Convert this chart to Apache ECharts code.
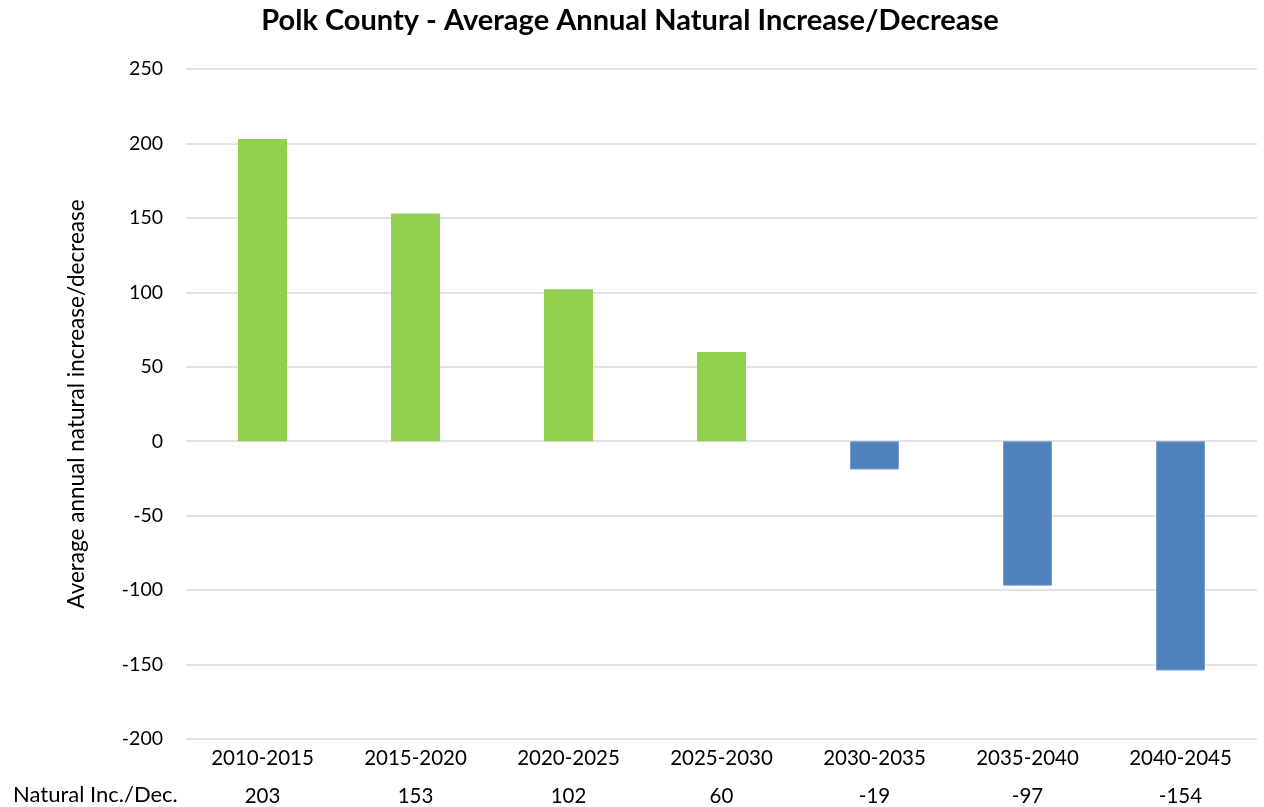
<!DOCTYPE html>
<html>
<head>
<meta charset="utf-8">
<script src="https://cdn.jsdelivr.net/npm/echarts@6/dist/echarts.min.js"></script>
<style>
  html, body { margin: 0; padding: 0; background: #fff; }
  #chart { width: 1264px; height: 807px; }
</style>
</head>
<body>
<div id="chart"></div>
<script>
const categories = ['2010-2015', '2015-2020', '2020-2025', '2025-2030', '2030-2035', '2035-2040', '2040-2045']
const naturalChange = [203, 153, 102, 60, -19, -97, -154]
const rowLabel = 'Natural Inc./Dec.'

const fontFamily = 'Lato, "Open Sans", sans-serif'
const chart = echarts.init(document.getElementById('chart'))

const option = {
  animation: false,
  textStyle: { fontFamily: fontFamily },
  title: {
    text: 'Polk County - Average Annual Natural Increase/Decrease',
    left: 625,
    textAlign: 'center',
    top: 1,
    textStyle: { fontSize: 29, fontWeight: 'bold', color: '#000', fontFamily: fontFamily }
  },
  grid: { left: 186, right: 7, top: 69, height: 670 },
  xAxis: [
    {
      type: 'category',
      data: categories,
      axisLine: { show: false },
      axisTick: { show: false },
      axisLabel: { color: '#000', fontSize: 20.5, margin: 9, interval: 0 }
    },
    {
      type: 'category',
      position: 'bottom',
      offset: 38,
      data: naturalChange.map(String),
      axisLine: { show: false },
      axisTick: { show: false },
      axisLabel: { color: '#000', fontSize: 20.5, margin: 9, interval: 0 }
    }
  ],
  yAxis: {
    type: 'value',
    min: -200,
    max: 250,
    interval: 50,
    name: 'Average annual natural increase/decrease',
    nameLocation: 'middle',
    nameGap: 98,
    nameTextStyle: { color: '#000', fontSize: 22.5 },
    axisLine: { show: false },
    axisTick: { show: false },
    axisLabel: { color: '#000', fontSize: 19.5, margin: 23 },
    splitLine: { lineStyle: { color: '#d9d9d9', width: 1.5 } }
  },
  graphic: [
    {
      type: 'text',
      left: 13,
      top: 784,
      style: { text: rowLabel, fontSize: 22, fill: '#000', fontFamily: fontFamily }
    }
  ],
  series: [
    {
      type: 'bar',
      xAxisIndex: 0,
      barWidth: 49,
      data: naturalChange.map((v) => ({
        value: v,
        itemStyle: v >= 0
          ? { color: '#92d050' }
          : { color: '#4f81bd', borderColor: '#7ba0cf', borderWidth: 1 }
      }))
    }
  ]
}
chart.setOption(option)
</script>
</body>
</html>
